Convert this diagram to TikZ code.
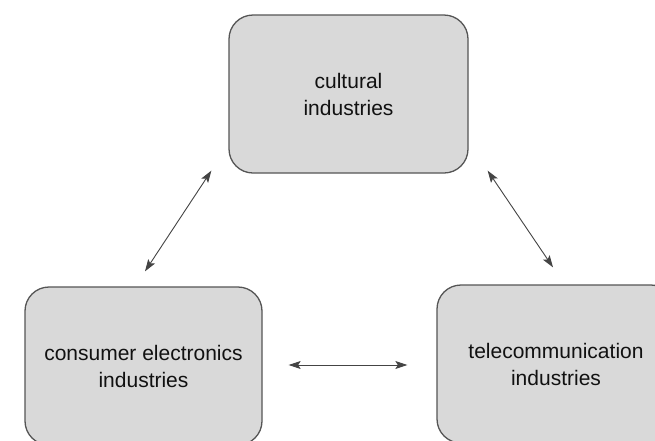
\documentclass[tikz,border=0pt]{standalone}
\usepackage{fontspec}
\setmainfont{Liberation Sans}
\usetikzlibrary{arrows.meta,calc}
\definecolor{boxfill}{HTML}{D9D9D9}
\definecolor{boxline}{HTML}{555555}
\definecolor{arrowline}{HTML}{444444}
\definecolor{ink}{HTML}{111111}
\begin{document}
\begin{tikzpicture}[x=1pt,y=-1pt,
  sector/.style={draw=boxline, fill=boxfill, line width=1.3pt,
    rounded corners=24pt, minimum height=158pt, align=center,
    text=ink, font=\fontsize{21}{27}\selectfont, inner sep=0pt},
  link/.style={draw=arrowline, line width=0.9pt,
    {Stealth[length=12pt,width=8pt,inset=2.5pt]}-{Stealth[length=12pt,width=8pt,inset=2.5pt]}}]
  \useasboundingbox (0,0) rectangle (655,440);
  \clip (0,0) rectangle (655,440);
  \fill[white] (0,0) rectangle (655,440);

  % three industry sectors
  \node[sector, minimum width=239pt] (cult) at (348.5,94) {cultural\\industries};
  \node[sector, minimum width=237pt] (cons) at (143.5,366) {consumer electronics\\industries};
  \node[sector, minimum width=238pt] (tele) at (556,364) {telecommunication\\industries};

  % two-way links between the sectors
  \draw[link] ($(cult.south west)+(-17,-3)$) -- ($(cons.north)+(1.5,-15)$);
  \draw[link] ($(cult.south east)+(19,-3)$) -- ($(tele.north)+(-3,-17)$);
  \draw[link] ($(cons.east)+(26,-1)$) -- ($(tele.west)+(-29,1)$);
\end{tikzpicture}
\end{document}
